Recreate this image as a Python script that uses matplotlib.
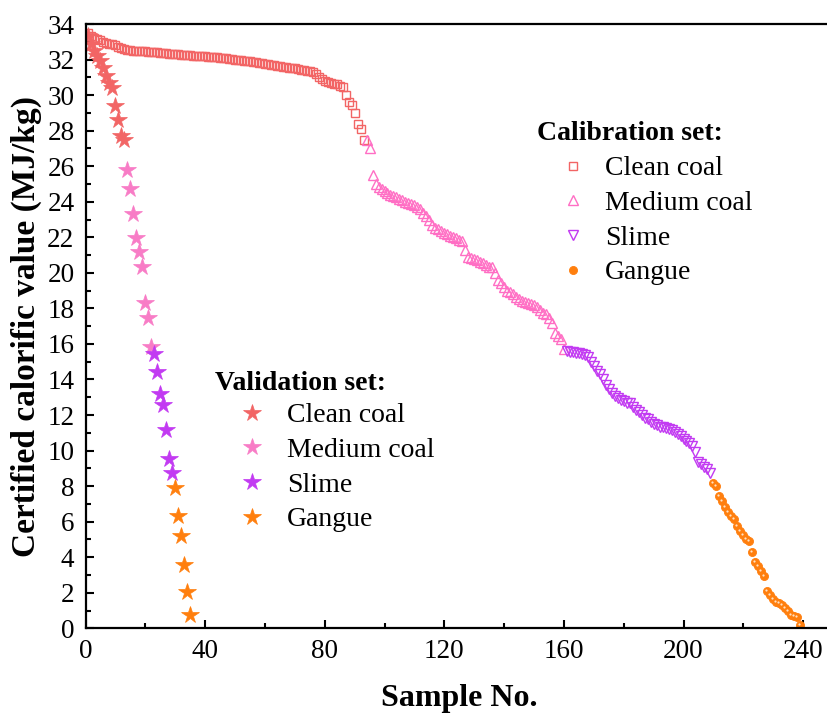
import matplotlib
matplotlib.use('Agg')
import matplotlib.pyplot as plt
import matplotlib.transforms as mtransforms
from matplotlib.ticker import MultipleLocator
import numpy as np

plt.rcParams['font.family'] = ['Liberation Serif', 'DejaVu Serif']

# Calibration set, sorted calorific values (MJ/kg), numbered 1..239
cal_clean = [33.5, 33.3, 33.2, 33.15, 33.1, 33.0, 32.95, 32.9, 32.85, 32.8,
             32.7, 32.65, 32.6, 32.55, 32.55, 32.5, 32.5, 32.5, 32.48, 32.47,
             32.45, 32.43, 32.42, 32.4, 32.38, 32.37, 32.35, 32.33, 32.32, 32.3,
             32.3, 32.28, 32.27, 32.25, 32.24, 32.22, 32.21, 32.2, 32.19, 32.18,
             32.16, 32.15, 32.14, 32.12, 32.1, 32.08, 32.06, 32.04, 32.02, 32.0,
             31.97, 31.95, 31.93, 31.92, 31.9, 31.88, 31.85, 31.82, 31.8, 31.77,
             31.74, 31.72, 31.69, 31.66, 31.63, 31.6, 31.58, 31.55, 31.52, 31.5,
             31.47, 31.44, 31.41, 31.38, 31.35, 31.3, 31.2, 31.0, 30.9, 30.8,
             30.75, 30.7, 30.65, 30.6, 30.5, 30.45, 30.0, 29.6, 29.45, 29.0,
             28.4, 28.1, 27.5]
cal_medium = [27.45, 27.0, 25.5, 25.0, 24.85, 24.7, 24.6, 24.5, 24.4, 24.3,
              24.25, 24.15, 24.1, 24.0, 23.95, 23.85, 23.8, 23.7, 23.6, 23.35,
              23.2, 23.0, 22.7, 22.5, 22.45, 22.35, 22.25, 22.2, 22.1, 22.0,
              21.95, 21.85, 21.8, 21.3, 20.9, 20.85, 20.75, 20.7, 20.6, 20.55,
              20.45, 20.35, 20.3, 20.0, 19.6, 19.4, 19.2, 19.0, 18.9, 18.8,
              18.65, 18.5, 18.4, 18.35, 18.3, 18.25, 18.2, 18.05, 17.9, 17.75,
              17.7, 17.45, 17.2, 16.6, 16.45, 16.3, 15.7]
cal_slime = [15.6, 15.55, 15.55, 15.5, 15.5, 15.45, 15.4, 15.25, 15.0, 14.75,
             14.5, 14.3, 14.0, 13.7, 13.45, 13.25, 13.05, 12.95, 12.85, 12.8,
             12.7, 12.65, 12.45, 12.3, 12.15, 12.0, 11.85, 11.75, 11.6, 11.5,
             11.45, 11.35, 11.3, 11.25, 11.2, 11.15, 11.05, 10.95, 10.8, 10.65,
             10.55, 10.4, 10.25, 9.9, 9.35, 9.25, 9.1, 8.95, 8.75]
cal_gangue = [8.2, 8.0, 7.45, 7.15, 6.85, 6.55, 6.3, 6.15, 5.75, 5.5,
              5.25, 5.05, 4.9, 4.3, 3.75, 3.5, 3.2, 2.95, 2.1, 1.85,
              1.65, 1.5, 1.4, 1.3, 1.15, 0.95, 0.75, 0.7, 0.65, 0.2]

# Validation set, numbered 1..35
val_clean = [33.3, 32.9, 32.5, 32.2, 31.9, 31.5, 31.1, 30.7, 30.4, 29.4,
             28.6, 27.7, 27.5]
val_medium = [25.8, 24.7, 23.3, 21.95, 21.2, 20.3, 18.3, 17.45, 15.85]
val_slime = [15.45, 14.4, 13.2, 12.55, 11.15, 9.5, 8.75]
val_gangue = [7.9, 6.3, 5.2, 3.55, 2.05, 0.75]

labels = ['Clean coal', 'Medium coal', 'Slime', 'Gangue']
c_clean, c_medium, c_slime, c_gangue = '#F26565', '#FF6EC4', '#C23AF2', '#FF7F0E'
c_star_medium = '#F87CC6'


def index_groups(groups):
    out, start = [], 1
    for g in groups:
        out.append(np.arange(start, start + len(g)))
        start += len(g)
    return out


fig = plt.figure(figsize=(8.27, 7.14), dpi=100)
ax = fig.add_axes([85.5 / 827, 85.7 / 714, 747.5 / 827, 604.3 / 714])

# calibration set
xc = index_groups([cal_clean, cal_medium, cal_slime, cal_gangue])
h_cal = []
h_cal += ax.plot(xc[0], cal_clean, ls='none', marker='s', ms=5.3, mfc='none',
                 mec=c_clean, mew=1.0)
h_cal += ax.plot(xc[1], cal_medium, ls='none', marker='^', ms=6.5, mfc='none',
                 mec=c_medium, mew=1.0)
h_cal += ax.plot(xc[2], cal_slime, ls='none', marker='v', ms=6.5, mfc='none',
                 mec=c_slime, mew=1.0)
h_cal += ax.plot(xc[3], cal_gangue, ls='none', marker='o', ms=5.8, mfc=c_gangue,
                 mec=c_gangue, mew=0.6)
# little highlight on the gangue balls
shine = ax.transData + mtransforms.ScaledTranslation(-1 / 100, 1 / 100, fig.dpi_scale_trans)
ax.plot(xc[3], cal_gangue, ls='none', marker='o', ms=1.6, mfc='#FFE2C4',
        mec='none', transform=shine)

# validation set
xv = index_groups([val_clean, val_medium, val_slime, val_gangue])
h_val = []
for x, y, c in zip(xv, [val_clean, val_medium, val_slime, val_gangue],
                   [c_clean, c_star_medium, c_slime, c_gangue]):
    h_val += ax.plot(x, y, ls='none', marker='*', ms=13, mfc=c, mec=c, mew=0.5)

ax.set_xlim(0, 250)
ax.set_ylim(0, 34)
ax.xaxis.set_major_locator(MultipleLocator(40))
ax.xaxis.set_minor_locator(MultipleLocator(20))
ax.yaxis.set_major_locator(MultipleLocator(2))
ax.yaxis.set_minor_locator(MultipleLocator(1))
ax.tick_params(which='both', direction='in', width=1.5, labelsize=19.5, pad=8)
ax.tick_params(which='major', length=6)
ax.tick_params(which='minor', length=3.5)
for s in ax.spines.values():
    s.set_linewidth(1.6)

ax.set_xlabel('Sample No.', fontsize=23, fontweight='bold', labelpad=14)
ax.set_ylabel('Certified calorific value (MJ/kg)', fontsize=24,
              fontweight='bold', labelpad=4)

# legends
fig.text(537 / 827, 1 - 133 / 714, 'Calibration set:', fontsize=20,
         fontweight='bold', va='center', ha='left')
leg1 = ax.legend(h_cal, labels, loc='upper left', frameon=False,
                 bbox_to_anchor=(563 / 827, 1 - 156 / 714),
                 bbox_transform=fig.transFigure, fontsize=20, borderpad=0,
                 borderaxespad=0, handlelength=0.72, handletextpad=0.8,
                 labelspacing=0.33, numpoints=1)
ax.add_artist(leg1)

fig.text(215 / 827, 1 - 383 / 714, 'Validation set:', fontsize=20,
         fontweight='bold', va='center', ha='left')
leg2 = ax.legend(h_val, labels, loc='upper left', frameon=False,
                 bbox_to_anchor=(240 / 827, 1 - 403 / 714),
                 bbox_transform=fig.transFigure, fontsize=20, borderpad=0,
                 borderaxespad=0, handlelength=0.86, handletextpad=0.83,
                 labelspacing=0.33, numpoints=1)

fig.savefig('out.png', dpi=100)
